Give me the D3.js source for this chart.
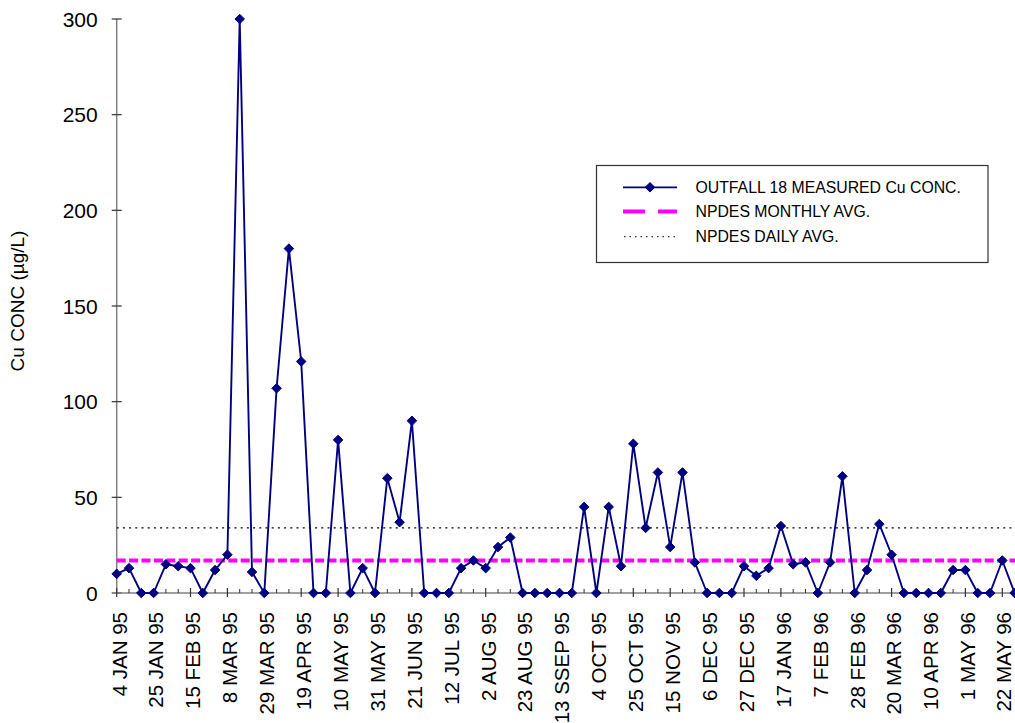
<!DOCTYPE html>
<html>
<head>
<meta charset="utf-8">
<script src="https://cdn.jsdelivr.net/npm/d3@7"></script>
<style>
  html, body { margin: 0; padding: 0; background: #fff; }
  svg { display: block; font-family: "Liberation Sans", Arial, sans-serif; }
</style>
</head>
<body>
<svg id="chart" width="1015" height="723"></svg>
<script>
// ---- data ----
const categories = [
  "4 JAN 95","11 JAN 95","18 JAN 95","25 JAN 95","1 FEB 95","8 FEB 95","15 FEB 95","22 FEB 95",
  "1 MAR 95","8 MAR 95","15 MAR 95","22 MAR 95","29 MAR 95","5 APR 95","12 APR 95","19 APR 95",
  "26 APR 95","3 MAY 95","10 MAY 95","17 MAY 95","24 MAY 95","31 MAY 95","7 JUN 95","14 JUN 95",
  "21 JUN 95","28 JUN 95","5 JUL 95","12 JUL 95","19 JUL 95","26 JUL 95","2 AUG 95","9 AUG 95",
  "16 AUG 95","23 AUG 95","30 AUG 95","6 SEP 95","13 SSEP 95","20 SEP 95","27 SEP 95","4 OCT 95",
  "11 OCT 95","18 OCT 95","25 OCT 95","1 NOV 95","8 NOV 95","15 NOV 95","22 NOV 95","29 NOV 95",
  "6 DEC 95","13 DEC 95","20 DEC 95","27 DEC 95","3 JAN 96","10 JAN 96","17 JAN 96","24 JAN 96",
  "31 JAN 96","7 FEB 96","14 FEB 96","21 FEB 96","28 FEB 96","6 MAR 96","13 MAR 96","20 MAR 96",
  "27 MAR 96","3 APR 96","10 APR 96","17 APR 96","24 APR 96","1 MAY 96","8 MAY 96","15 MAY 96",
  "22 MAY 96","29 MAY 96"
];
const measuredCu = [
  10,13,0,0,15,14,13,0,12,20,
  300,11,0,107,180,121,0,0,80,0,
  13,0,60,37,90,0,0,0,13,17,
  13,24,29,0,0,0,0,0,45,0,
  45,14,78,34,63,24,63,16,0,0,
  0,14,9,13,35,15,16,0,16,61,
  0,12,36,20,0,0,0,0,12,12,
  0,0,17,0
];
const npdesMonthly = 17;
const npdesDaily = 34;
const yTicks = [0, 50, 100, 150, 200, 250, 300];
const labelEvery = 3;
const seriesNames = ["OUTFALL 18 MEASURED Cu CONC.", "NPDES MONTHLY AVG.", "NPDES DAILY AVG."];

// ---- layout ----
const svg = d3.select("#chart");
const x = d3.scalePoint().domain(d3.range(categories.length)).range([116.7, 1014.6]).padding(0);
const y = d3.scaleLinear().domain([0, 300]).range([593, 19]);
const navy = "#000080", magenta = "#FF00FF", axisCol = "#808080";

// y axis
const yAxis = svg.append("g").attr("transform", `translate(${x(0)},0)`);
yAxis.append("line").attr("x1", 0).attr("x2", 0).attr("y1", y(0)).attr("y2", y(300))
  .attr("stroke", axisCol).attr("stroke-width", 1.5);
yAxis.selectAll("line.tk").data(yTicks).join("line").attr("class", "tk")
  .attr("x1", -5).attr("x2", 5).attr("y1", d => y(d)).attr("y2", d => y(d))
  .attr("stroke", "#333").attr("stroke-width", 1.2);
yAxis.selectAll("text").data(yTicks).join("text")
  .attr("x", -19).attr("y", d => y(d)).attr("dy", "0.36em")
  .attr("text-anchor", "end").attr("font-size", 21).attr("fill", "#000")
  .text(d => d);

// y title
svg.append("text")
  .attr("transform", `translate(24,301) rotate(-90)`)
  .attr("text-anchor", "middle").attr("font-size", 19).attr("fill", "#000")
  .text("Cu CONC (\u00b5g/L)");

// x axis
const xAxis = svg.append("g");
xAxis.append("line").attr("x1", x(0)).attr("x2", 1015).attr("y1", y(0)).attr("y2", y(0))
  .attr("stroke", axisCol).attr("stroke-width", 1.5);
const idx = d3.range(categories.length);
xAxis.selectAll("line.minor").data(idx.filter(i => i % labelEvery !== 0)).join("line").attr("class", "minor")
  .attr("x1", d => x(d)).attr("x2", d => x(d)).attr("y1", y(0) - 4).attr("y2", y(0))
  .attr("stroke", "#333").attr("stroke-width", 1);
xAxis.selectAll("line.major").data(idx.filter(i => i % labelEvery === 0)).join("line").attr("class", "major")
  .attr("x1", d => x(d)).attr("x2", d => x(d)).attr("y1", y(0) - 5).attr("y2", y(0) + 4)
  .attr("stroke", "#333").attr("stroke-width", 1.2);
xAxis.selectAll("text").data(idx.filter(i => i % labelEvery === 0)).join("text")
  .attr("transform", d => `translate(${Math.min(x(d) + 2.5, 1004)},612) rotate(-90)`)
  .attr("dy", "0.36em").attr("text-anchor", "end")
  .attr("font-size", 20.5).attr("fill", "#000")
  .text(d => categories[d]);

// reference lines
svg.append("line").attr("x1", x(0)).attr("x2", 1015)
  .attr("y1", y(npdesDaily)).attr("y2", y(npdesDaily))
  .attr("stroke", "#000").attr("stroke-width", 1.2).attr("stroke-dasharray", "2,4.2");
svg.append("line").attr("x1", x(0)).attr("x2", 1015)
  .attr("y1", y(npdesMonthly)).attr("y2", y(npdesMonthly))
  .attr("stroke", magenta).attr("stroke-width", 4).attr("stroke-dasharray", "9,3.4");

// series
const line = d3.line().x((d, i) => x(i)).y(d => y(d));
svg.append("path").datum(measuredCu).attr("d", line)
  .attr("fill", "none").attr("stroke", navy).attr("stroke-width", 1.9).attr("stroke-linejoin", "round");
const diamond = d3.symbol().type(d3.symbolDiamond2).size(58);
svg.selectAll("path.mk").data(measuredCu).join("path").attr("class", "mk")
  .attr("transform", (d, i) => `translate(${x(i)},${y(d)})`)
  .attr("d", diamond).attr("fill", navy).attr("stroke", navy).attr("stroke-width", 1);

// legend
const lg = svg.append("g");
lg.append("rect").attr("x", 596.5).attr("y", 165.5).attr("width", 391.5).attr("height", 97)
  .attr("fill", "#fff").attr("stroke", "#333").attr("stroke-width", 1.2);
const rowsY = [187.3, 211.5, 236.7];
lg.append("line").attr("x1", 623).attr("x2", 677).attr("y1", rowsY[0]).attr("y2", rowsY[0])
  .attr("stroke", navy).attr("stroke-width", 1.8);
lg.append("path").attr("transform", `translate(650,${rowsY[0]})`).attr("d", diamond)
  .attr("fill", navy).attr("stroke", navy);
lg.append("line").attr("x1", 623).attr("x2", 677).attr("y1", rowsY[1]).attr("y2", rowsY[1])
  .attr("stroke", magenta).attr("stroke-width", 4).attr("stroke-dasharray", "22,13");
lg.append("line").attr("x1", 624).attr("x2", 677).attr("y1", rowsY[2]).attr("y2", rowsY[2])
  .attr("stroke", "#000").attr("stroke-width", 1).attr("stroke-dasharray", "1.5,4");
lg.selectAll("text").data(seriesNames).join("text")
  .attr("x", 695.5).attr("y", (d, i) => rowsY[i]).attr("dy", "0.36em")
  .attr("font-size", 15.8).attr("fill", "#000").text(d => d);
</script>
</body>
</html>
